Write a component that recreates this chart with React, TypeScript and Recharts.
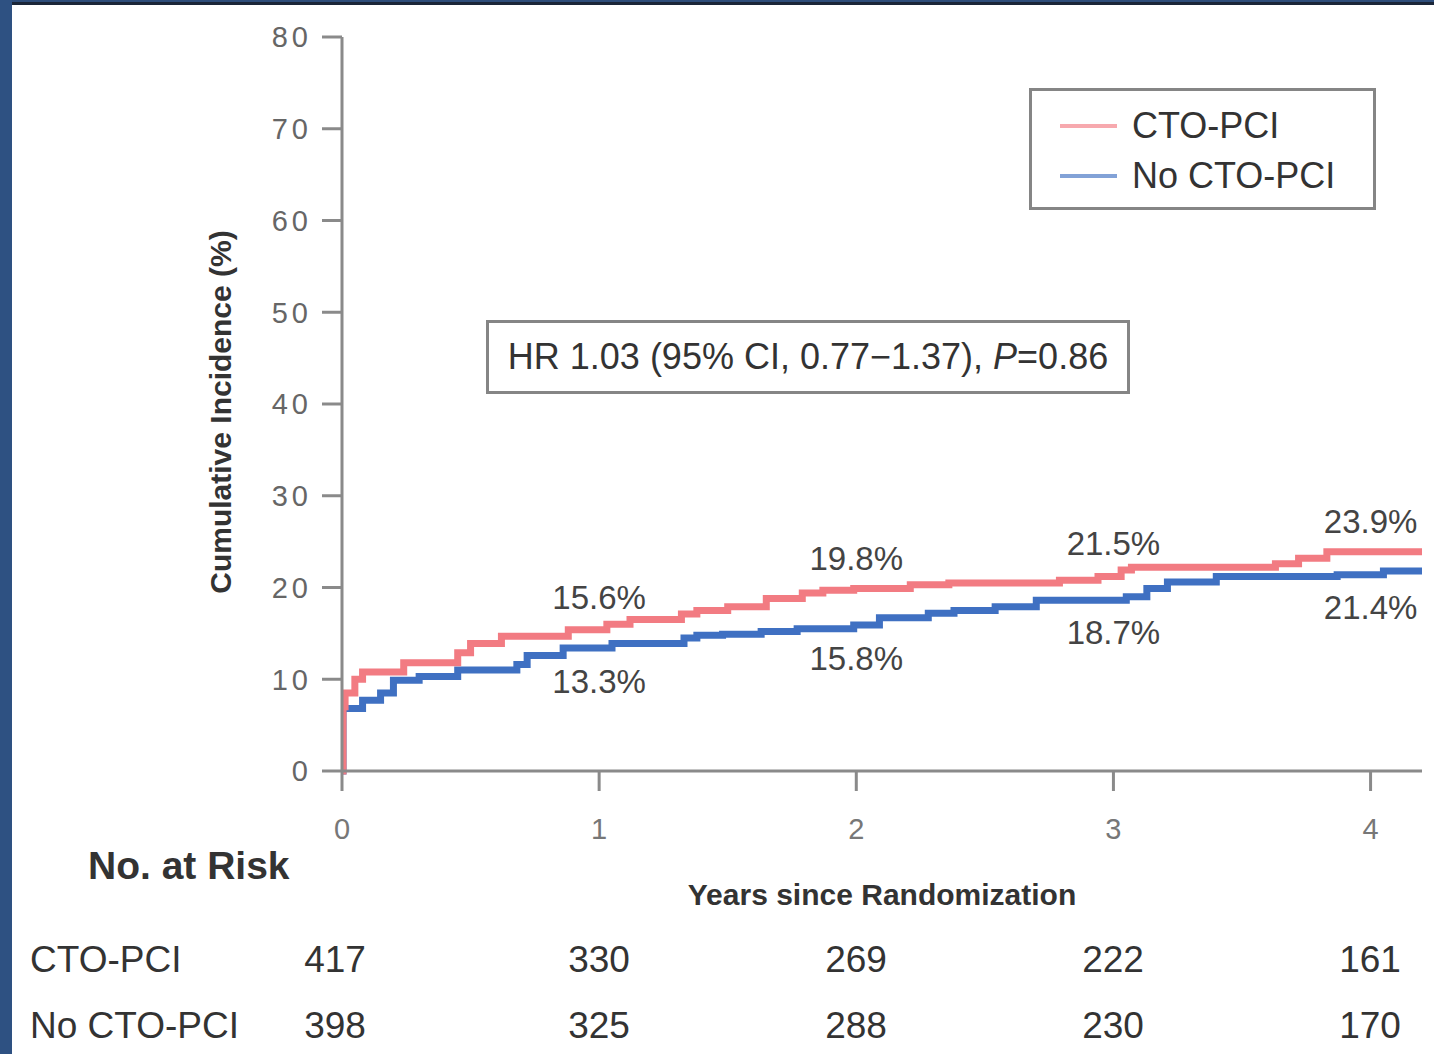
import { LineChart, Line, XAxis, YAxis, ReferenceDot, Legend } from "recharts";

// cumulative incidence step curves (years, %)
const ctoTimes = [0, 0.004, 0.012, 0.05, 0.08, 0.24, 0.45, 0.5, 0.62, 0.88, 1.03, 1.12, 1.32, 1.38, 1.5, 1.65, 1.79, 1.87, 1.99, 2.21, 2.36, 2.79, 2.94, 3.03, 3.07, 3.63, 3.72, 3.83, 4.2];
const ctoValues = [0, 7.0, 8.5, 10.0, 10.8, 11.8, 12.9, 13.9, 14.7, 15.4, 16.0, 16.5, 17.1, 17.5, 17.9, 18.8, 19.4, 19.7, 19.9, 20.3, 20.5, 20.8, 21.2, 21.9, 22.2, 22.6, 23.2, 23.9, 23.9];
const noCtoTimes = [0, 0.004, 0.08, 0.15, 0.2, 0.3, 0.45, 0.68, 0.72, 0.86, 1.05, 1.33, 1.38, 1.48, 1.63, 1.77, 1.99, 2.09, 2.28, 2.38, 2.54, 2.7, 3.05, 3.13, 3.21, 3.4, 3.87, 4.05, 4.2];
const noCtoValues = [0, 6.8, 7.7, 8.5, 9.9, 10.3, 11.0, 11.6, 12.6, 13.4, 13.9, 14.5, 14.8, 14.9, 15.2, 15.5, 15.9, 16.7, 17.2, 17.5, 17.9, 18.6, 19.0, 19.9, 20.6, 21.2, 21.4, 21.8, 21.8];

const labelYears = [1, 2, 3, 4];
const ctoAtYear = [15.6, 19.8, 21.5, 23.9];
const noCtoAtYear = [13.3, 15.8, 18.7, 21.4];

const xTicks = [0, 1, 2, 3, 4];
const yTicks = [0, 10, 20, 30, 40, 50, 60, 70, 80];

const riskCto = [417, 330, 269, 222, 161];
const riskNoCto = [398, 325, 288, 230, 170];

const seriesNames = ["CTO-PCI", "No CTO-PCI"];
const RED = "#f27b82";
const BLUE = "#3f70c2";

const ctoData = ctoTimes.map((t, i) => ({ t, y: ctoValues[i] }));
const noCtoData = noCtoTimes.map((t, i) => ({ t, y: noCtoValues[i] }));

const FONT = "'Liberation Sans', Arial, sans-serif";
const AXIS = "#8a8a8a";

const PLOT_LEFT = 342;
const YEAR_PX = 257;

function YTick(props: any) {
  const { x, y, payload } = props;
  return (
    <text x={x} y={y} dy="0.36em" textAnchor="end" fontSize={29} fill="#666" fontFamily={FONT} letterSpacing={4}>
      {payload.value}
    </text>
  );
}

function LegendBox() {
  const colors = [RED, BLUE];
  return (
    <div style={{ width: 341, height: 116, border: "3px solid #858585", boxSizing: "content-box", background: "#fff", fontFamily: FONT }}>
      {seriesNames.map((n, i) => (
        <div key={n} style={{ display: "flex", alignItems: "center", height: 46, marginTop: i === 0 ? 12 : 4 }}>
          <div style={{ width: 57, height: 4, background: colors[i], opacity: 0.65, marginLeft: 28, marginRight: 15 }} />
          <span style={{ fontSize: 36, color: "#333" }}>{n}</span>
        </div>
      ))}
    </div>
  );
}

export default function App() {
  const rowStyle = { position: "absolute" as const, fontSize: 37, color: "#333", fontFamily: FONT };
  return (
    <div style={{ position: "absolute", left: 0, top: 0, width: 1434, height: 1054, background: "#fff", overflow: "hidden" }}>
      <LineChart width={1434} height={1054} margin={{ top: 37, right: 12, left: 262, bottom: 203 }}>
        <XAxis
          dataKey="t"
          type="number"
          domain={[0, 4.2]}
          ticks={xTicks}
          allowDataOverflow
          height={80}
          stroke={AXIS}
          strokeWidth={3}
          tickSize={20}
          tickMargin={27}
          tick={{ fontSize: 29, fill: "#777", fontFamily: FONT }}
        />
        <YAxis
          type="number"
          domain={[0, 80]}
          ticks={yTicks}
          width={80}
          stroke={AXIS}
          strokeWidth={3}
          tickSize={20}
          tickMargin={10}
          tick={<YTick />}
        />
        <Legend
          layout="horizontal"
          verticalAlign="middle"
          align="center"
          wrapperStyle={{ left: 1029, top: 88, width: 347, height: 122 }}
          content={() => <LegendBox />}
        />
        <Line data={noCtoData} dataKey="y" name={seriesNames[1]} type="stepAfter" stroke={BLUE} strokeWidth={7} dot={false} isAnimationActive={false} />
        <Line data={ctoData} dataKey="y" name={seriesNames[0]} type="stepAfter" stroke={RED} strokeWidth={7} dot={false} isAnimationActive={false} />
        {labelYears.map((yr, i) => (
          <ReferenceDot
            key={"c" + yr}
            x={yr}
            y={ctoAtYear[i]}
            r={0}
            fill="none"
            stroke="none"
            label={{ value: `${ctoAtYear[i]}%`, position: "top", offset: 19, fontSize: 33, fill: "#444", fontFamily: FONT }}
          />
        ))}
        {labelYears.map((yr, i) => (
          <ReferenceDot
            key={"n" + yr}
            x={yr}
            y={noCtoAtYear[i]}
            r={0}
            fill="none"
            stroke="none"
            label={{ value: `${noCtoAtYear[i]}%`, position: "bottom", offset: 21, fontSize: 33, fill: "#444", fontFamily: FONT }}
          />
        ))}
      </LineChart>

      {/* frame */}
      <div style={{ position: "absolute", left: 0, top: 0, width: 1434, height: 2, background: "#2e4d7a" }} />
      <div style={{ position: "absolute", left: 0, top: 2, width: 1434, height: 3, background: "#1b2638" }} />
      <div style={{ position: "absolute", left: 0, top: 0, width: 12, height: 1054, background: "#2e5182" }} />

      {/* y axis title */}
      <div
        style={{
          position: "absolute", left: 221, top: 412, transform: "translate(-50%, -50%) rotate(-90deg)",
          whiteSpace: "nowrap", fontSize: 30, fontWeight: "bold", color: "#333", fontFamily: FONT,
        }}
      >
        Cumulative Incidence (%)
      </div>

      {/* HR box */}
      <div
        style={{
          position: "absolute", left: 486, top: 320, width: 638, height: 68, border: "3px solid #858585",
          display: "flex", alignItems: "center", justifyContent: "center", fontSize: 36, color: "#333", fontFamily: FONT, whiteSpace: "nowrap",
        }}
      >
        HR 1.03 (95% CI, 0.77−1.37),&nbsp;<i>P</i>=0.86
      </div>

      {/* x axis title */}
      <div style={{ position: "absolute", left: 882, top: 895, transform: "translate(-50%, -50%)", fontSize: 30, fontWeight: "bold", color: "#333", fontFamily: FONT, whiteSpace: "nowrap" }}>
        Years since Randomization
      </div>

      {/* risk table */}
      <div style={{ ...rowStyle, left: 88, top: 866, transform: "translateY(-50%)", fontWeight: "bold", fontSize: 39 }}>No. at Risk</div>
      <div style={{ ...rowStyle, left: 30, top: 960, transform: "translateY(-50%)" }}>{seriesNames[0]}</div>
      <div style={{ ...rowStyle, left: 30, top: 1026, transform: "translateY(-50%)" }}>{seriesNames[1]}</div>
      {xTicks.map((yr, i) => (
        <div key={"r1" + yr} style={{ ...rowStyle, left: PLOT_LEFT + yr * YEAR_PX - (i === 0 ? 7 : 0), top: 960, transform: "translate(-50%, -50%)" }}>
          {riskCto[i]}
        </div>
      ))}
      {xTicks.map((yr, i) => (
        <div key={"r2" + yr} style={{ ...rowStyle, left: PLOT_LEFT + yr * YEAR_PX - (i === 0 ? 7 : 0), top: 1026, transform: "translate(-50%, -50%)" }}>
          {riskNoCto[i]}
        </div>
      ))}
    </div>
  );
}
